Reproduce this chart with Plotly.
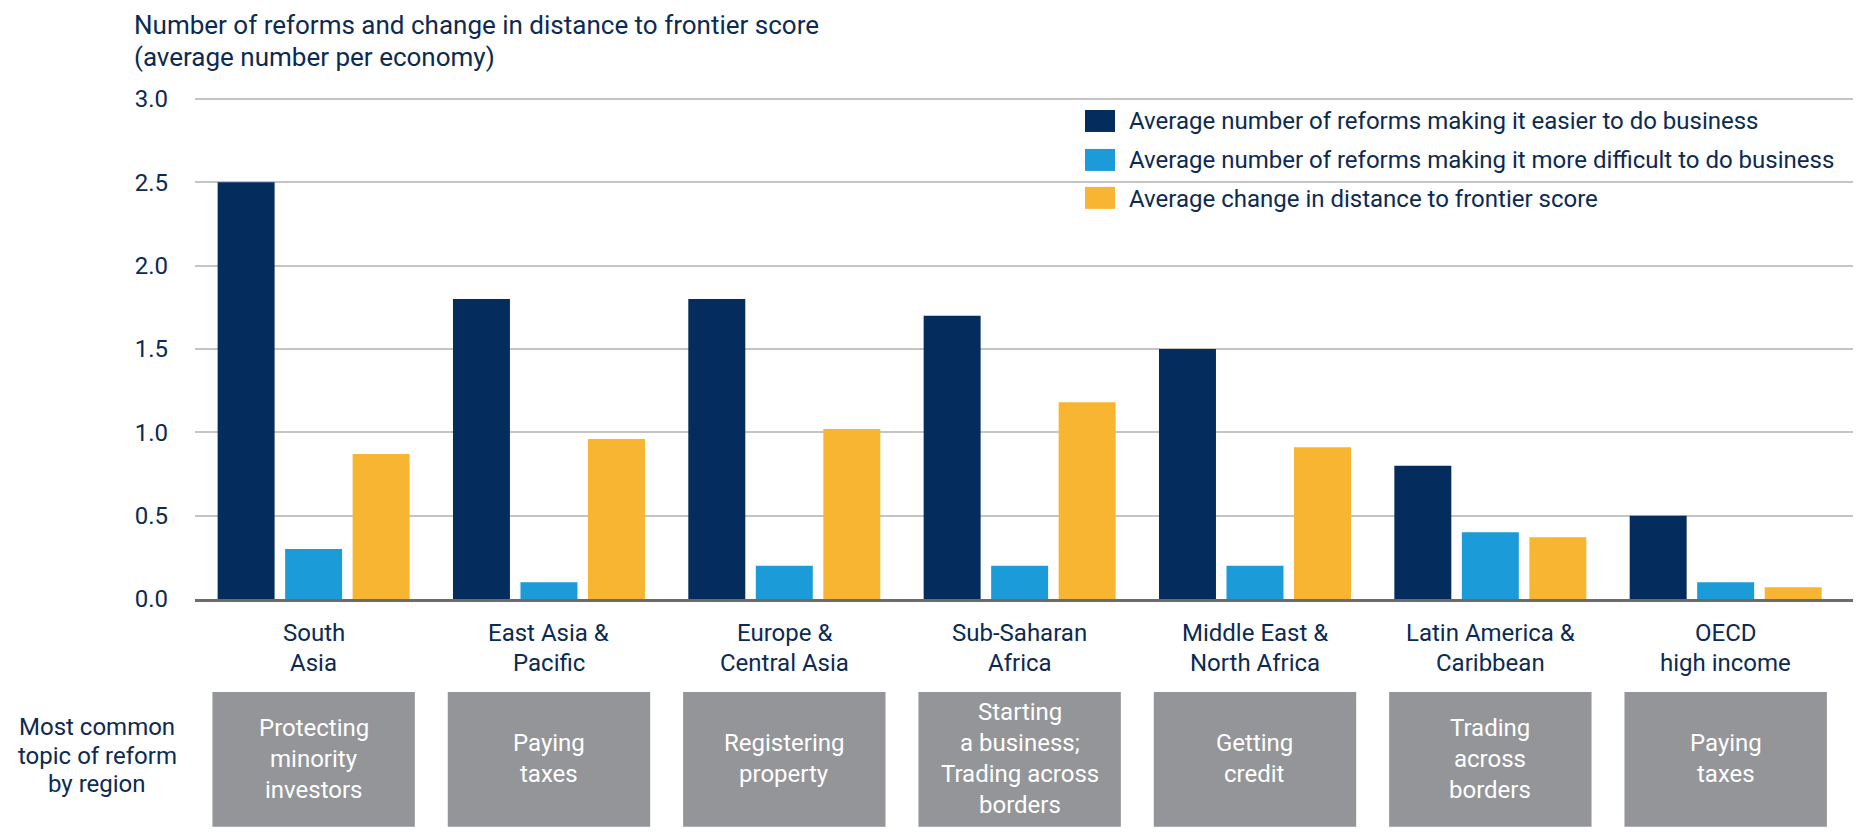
import plotly.graph_objects as go

# ---------------- data ----------------
regions = ["South<br>Asia", "East Asia &<br>Pacific", "Europe &<br>Central Asia",
           "Sub-Saharan<br>Africa", "Middle East &<br>North Africa",
           "Latin America &<br>Caribbean", "OECD<br>high income"]
series_names = ["Average number of reforms making it easier to do business",
                "Average number of reforms making it more difficult to do business",
                "Average change in distance to frontier score"]
easier = [2.5, 1.8, 1.8, 1.7, 1.5, 0.8, 0.5]
harder = [0.3, 0.1, 0.2, 0.2, 0.2, 0.4, 0.1]
dtf_change = [0.87, 0.96, 1.02, 1.18, 0.91, 0.37, 0.07]
topics = ["Protecting<br>minority<br>investors", "Paying<br>taxes", "Registering<br>property",
          "Starting<br>a business;<br>Trading across<br>borders", "Getting<br>credit",
          "Trading<br>across<br>borders", "Paying<br>taxes"]
y_ticks = [0.0, 0.5, 1.0, 1.5, 2.0, 2.5, 3.0]
title_text = "Number of reforms and change in distance to frontier score<br>(average number per economy)"
row_label = "Most common<br>topic of reform<br>by region"

# ---------------- style ----------------
colors = ["#042c5c", "#1b9bd7", "#f8b532"]
NAVY_TXT = "#0c2a52"
FONT = "Roboto, Lato, Liberation Sans, sans-serif"
OFF = 8                      # page body margin
W, H = 1864 - 2 * OFF, 836 - 2 * OFF
# plot area in page (reference) pixels
PL, PR, PB = 195, 1853, 599
Y3 = 98.5                    # pixel of y = 3.0
PT = Y3 - 6                  # a little headroom so the 3.0 grid line is drawn
Y_TOP = 3.0 + (Y3 - PT) * 3.0 / (PB - Y3)


def px_x(p):
    return (p - PL) / (PR - PL)


def px_y(p):
    return (PB - p) / (PB - PT)


def add_lines(text, x, xref, yc, pitch, size, color, xanchor="center"):
    lines = text.split("<br>")
    n = len(lines)
    for k, ln in enumerate(lines):
        yy = yc + (k - (n - 1) / 2) * pitch
        fig.add_annotation(text=ln, xref=xref, yref="paper", x=x, y=px_y(yy),
                           xanchor=xanchor, yanchor="middle", showarrow=False,
                           borderpad=0,
                           font=dict(size=size, family=FONT, color=color))


idx = list(range(len(regions)))
fig = go.Figure()
for name, vals, col in zip(series_names, [easier, harder, dtf_change], colors):
    fig.add_trace(go.Bar(x=idx, y=vals, name=name, marker=dict(color=col, line=dict(width=0)),
                         showlegend=False))

fig.update_layout(
    width=W, height=H,
    margin=dict(l=PL - OFF, r=W - (PR - OFF), t=PT - OFF, b=H - (PB - OFF), pad=0),
    paper_bgcolor="white", plot_bgcolor="white",
    barmode="group", bargap=0.1395, bargroupgap=0.156,
    font=dict(family=FONT, color=NAVY_TXT, size=24),
    xaxis=dict(range=[-0.504, 6.541], tickmode="array", tickvals=idx,
               showticklabels=False, showgrid=False, showline=True,
               linecolor="#6b6b6b", linewidth=3, ticks=""),
    yaxis=dict(range=[0, Y_TOP], tickmode="array", tickvals=y_ticks,
               ticktext=[f"{v:.1f}" for v in y_ticks],
               showgrid=True, gridcolor="#c4c4c4", gridwidth=2, zeroline=False,
               showline=False, ticks="", ticklabelstandoff=26,
               tickfont=dict(size=24, family=FONT, color=NAVY_TXT)),
)

# title (kept just inside the top edge)
for k, ln in enumerate(title_text.split("<br>")):
    fig.add_annotation(text=ln, xref="paper", yref="paper", x=px_x(133), y=px_y([24.5, 56][k]),
                       xanchor="left", yanchor="middle", showarrow=False, borderpad=0,
                       font=dict(size=26, family=FONT, color=NAVY_TXT))

# legend (custom, larger swatches)
sw_rows = [120.5, 159.5, 197.5]
txt_rows = [121, 160, 198.3]
for name, col, ys, yt in zip(series_names, colors, sw_rows, txt_rows):
    fig.add_shape(type="rect", xref="paper", yref="paper",
                  x0=px_x(1085), x1=px_x(1115), y0=px_y(ys + 11), y1=px_y(ys - 11),
                  fillcolor=col, line=dict(width=0))
    fig.add_annotation(text=name, xref="paper", yref="paper", x=px_x(1128), y=px_y(yt),
                       xanchor="left", yanchor="middle", showarrow=False, borderpad=0,
                       font=dict(size=24, family=FONT, color=NAVY_TXT))

# region (category) labels under the axis
for i, reg in enumerate(regions):
    add_lines(reg, i, "x", 648, 29.5, 24, NAVY_TXT)

# topic boxes
for i, t in enumerate(topics):
    fig.add_shape(type="rect", xref="x", yref="paper", x0=i - 0.43, x1=i + 0.43,
                  y0=px_y(827), y1=px_y(692), fillcolor="#939598", line=dict(width=0))
    add_lines(t, i, "x", 759, 31, 24, "white")

add_lines(row_label, px_x(97), "paper", 755.7, 28.3, 24, NAVY_TXT)

fig.write_html("out.html")
